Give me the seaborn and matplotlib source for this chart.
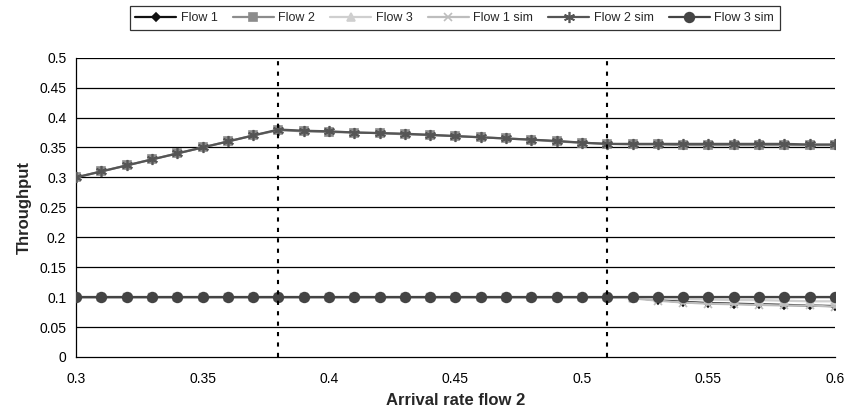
import numpy as np
import pandas as pd
import matplotlib
matplotlib.use("Agg")
import matplotlib.pyplot as plt
import seaborn as sns

# arrival rate of flow 2 (x axis)
arrival = [0.30, 0.31, 0.32, 0.33, 0.34, 0.35, 0.36, 0.37, 0.38, 0.39, 0.40,
           0.41, 0.42, 0.43, 0.44, 0.45, 0.46, 0.47, 0.48, 0.49, 0.50,
           0.51, 0.52, 0.53, 0.54, 0.55, 0.56, 0.57, 0.58, 0.59, 0.60]

flow1 = [0.100, 0.100, 0.100, 0.100, 0.100, 0.100, 0.100, 0.100, 0.100, 0.100, 0.100,
         0.100, 0.100, 0.100, 0.100, 0.100, 0.100, 0.100, 0.100, 0.100, 0.100,
         0.100, 0.099, 0.095, 0.092, 0.090, 0.089, 0.088, 0.087, 0.086, 0.085]
flow2 = [0.300, 0.310, 0.320, 0.330, 0.340, 0.350, 0.360, 0.370, 0.379, 0.377, 0.376,
         0.375, 0.374, 0.372, 0.371, 0.369, 0.367, 0.365, 0.363, 0.360, 0.358,
         0.356, 0.355, 0.355, 0.354, 0.354, 0.354, 0.354, 0.354, 0.354, 0.354]
flow3 = [0.100, 0.100, 0.100, 0.100, 0.100, 0.100, 0.100, 0.100, 0.100, 0.100, 0.100,
         0.100, 0.100, 0.100, 0.100, 0.100, 0.100, 0.100, 0.100, 0.100, 0.100,
         0.100, 0.099, 0.098, 0.097, 0.096, 0.095, 0.095, 0.094, 0.093, 0.093]
flow1_sim = [0.100, 0.100, 0.100, 0.100, 0.100, 0.100, 0.100, 0.100, 0.100, 0.100, 0.100,
             0.100, 0.100, 0.100, 0.100, 0.100, 0.100, 0.100, 0.100, 0.100, 0.100,
             0.100, 0.098, 0.094, 0.091, 0.089, 0.088, 0.087, 0.086, 0.086, 0.084]
flow2_sim = [0.300, 0.310, 0.320, 0.330, 0.340, 0.350, 0.360, 0.370, 0.380, 0.378, 0.377,
             0.375, 0.374, 0.373, 0.371, 0.369, 0.367, 0.365, 0.363, 0.361, 0.358,
             0.356, 0.356, 0.356, 0.356, 0.356, 0.356, 0.356, 0.356, 0.355, 0.355]
flow3_sim = [0.100] * 31

vlines = [0.38, 0.51]

series = [
    ("Flow 1", flow1, "#111111", "D", 4, "#111111"),
    ("Flow 2", flow2, "#8c8c8c", "s", 6, "#8c8c8c"),
    ("Flow 3", flow3, "#cfcfcf", "^", 6, "#cfcfcf"),
    ("Flow 1 sim", flow1_sim, "#bdbdbd", "x", 6, "#bdbdbd"),
    ("Flow 2 sim", flow2_sim, "#555555", (6, 2, 0), 8, "#555555"),
    ("Flow 3 sim", flow3_sim, "#444444", "o", 7, "#444444"),
]

sns.set_style("white")
plt.rcParams['font.family'] = ['Liberation Sans', 'DejaVu Sans']

fig = plt.figure(figsize=(8.45, 4.18), dpi=100)
ax = fig.add_axes([0.09, 0.146, 0.898, 0.716])

for y in np.arange(0.05, 0.501, 0.05):
    ax.axhline(y, color="black", lw=0.9, zorder=0)

for name, vals, col, mk, ms, mcol in series:
    sns.lineplot(x=arrival, y=vals, ax=ax, color=col, marker=mk, markersize=ms,
                 markerfacecolor=mcol, markeredgecolor=mcol, markeredgewidth=1.2,
                 linewidth=1.6, label=name, zorder=3)

for xv in vlines:
    ax.axvline(xv, color="black", lw=1.5, ls=(0, (2, 3)), zorder=4)

ax.set_xlim(0.3, 0.6)
ax.set_ylim(0, 0.5)
ax.set_xticks(np.arange(0.3, 0.601, 0.05))
ax.set_xticklabels(["0.3", "0.35", "0.4", "0.45", "0.5", "0.55", "0.6"])
ax.set_yticks(np.arange(0, 0.501, 0.05))
ax.set_yticklabels(["0", "0.05", "0.1", "0.15", "0.2", "0.25", "0.3", "0.35",
                    "0.4", "0.45", "0.5"])
ax.tick_params(axis="both", direction="out", length=5, width=0.9, colors="black",
               labelsize=10, pad=2)
ax.tick_params(axis="x", pad=6)

for side in ["top", "right"]:
    ax.spines[side].set_visible(False)
for side in ["left", "bottom"]:
    ax.spines[side].set_color("black")
    ax.spines[side].set_linewidth(0.9)

ax.set_xlabel("Arrival rate flow 2", fontsize=12, fontweight="bold", labelpad=5)
ax.set_ylabel("Throughput", fontsize=12, fontweight="bold", labelpad=5)

leg = ax.legend(loc="center", bbox_to_anchor=(0.538, 0.957), bbox_transform=fig.transFigure,
                ncol=6, fontsize=9, frameon=True, fancybox=False, handlelength=3.3,
                columnspacing=1.2, handletextpad=0.35, borderpad=0.45)
leg.get_frame().set_edgecolor("black")
leg.get_frame().set_linewidth(0.9)

fig.savefig("out.png", dpi=100)
